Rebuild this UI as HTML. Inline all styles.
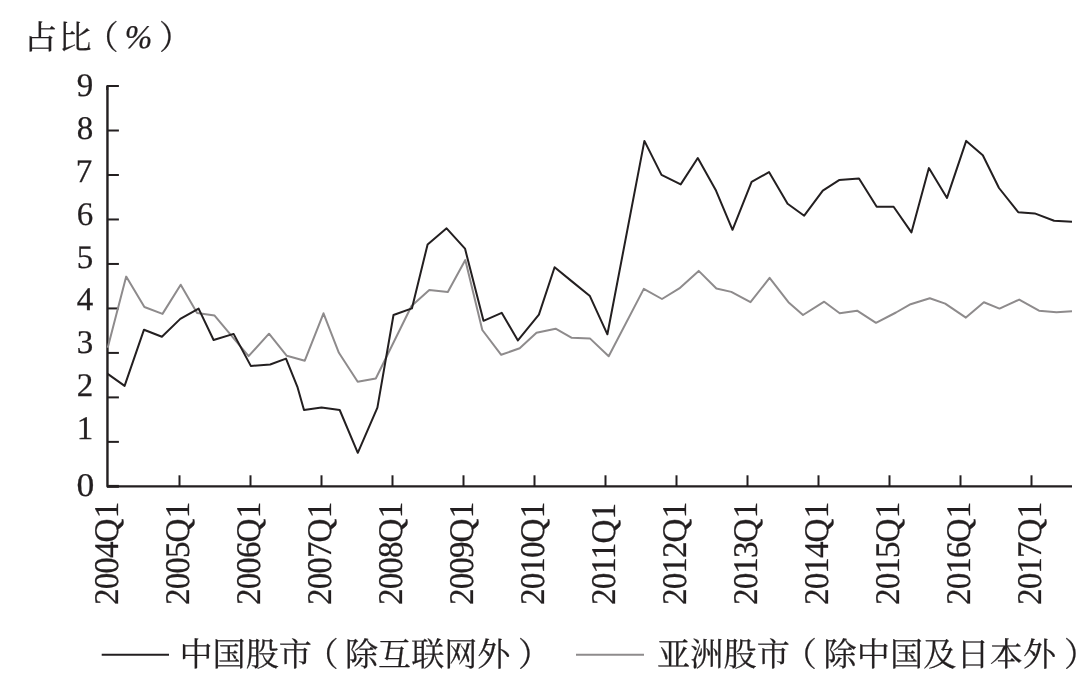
<!DOCTYPE html><html><head><meta charset="utf-8"><title>占比（%）</title>
<style>html,body{margin:0;padding:0;background:#fff}svg{display:block;will-change:transform}text{font-family:"Liberation Serif","Noto Serif CJK SC",serif;fill:#231f20;stroke:#231f20;stroke-width:0.25px;text-rendering:geometricPrecision}</style></head><body>
<svg width="1091" height="696" viewBox="0 0 1091 696">
<title>占比（%）：中国股市（除互联网外）与亚洲股市（除中国及日本外），2004Q1—2017Q3</title>
<rect width="1091" height="696" fill="#fff"/>
<path d="M107.45 86.03 V486.35 H1072" stroke="#231f20" stroke-width="2.4" fill="none" stroke-linejoin="round"/>
<g stroke="#231f20" stroke-width="2.0" fill="none" stroke-linecap="butt">
<path d="M107.45 441.87 H118.90"/>
<path d="M107.45 397.39 H118.90"/>
<path d="M107.45 352.91 H118.90"/>
<path d="M107.45 308.43 H118.90"/>
<path d="M107.45 263.95 H118.90"/>
<path d="M107.45 219.47 H118.90"/>
<path d="M107.45 174.99 H118.90"/>
<path d="M107.45 130.51 H118.90"/>
<path d="M118.90 86.03 H107.25 V90.03" stroke-linejoin="round"/>
<path d="M107.05 486.35 H118.90" stroke-width="2.9"/>
<path d="M179.50 486.35 V475.30"/>
<path d="M250.50 486.35 V475.30"/>
<path d="M321.50 486.35 V475.30"/>
<path d="M392.50 486.35 V475.30"/>
<path d="M463.50 486.35 V475.30"/>
<path d="M534.50 486.35 V475.30"/>
<path d="M605.50 486.35 V475.30"/>
<path d="M676.50 486.35 V475.30"/>
<path d="M747.50 486.35 V475.30"/>
<path d="M818.50 486.35 V475.30"/>
<path d="M889.50 486.35 V475.30"/>
<path d="M960.50 486.35 V475.30"/>
<path d="M1031.50 486.35 V475.30"/>
</g>
<polyline points="107.7,347.7 126.2,276.6 144.4,307.0 162.5,313.9 180.7,284.7 197.1,313.1 214.6,315.6 248.6,356.1 269.0,333.7 286.8,355.8 304.8,360.7 323.5,313.3 338.9,352.8 357.7,381.7 375.8,378.5 411.5,306.0 429.3,290.0 447.8,292.1 465.3,260.1 482.3,330.0 501.2,354.8 519.7,348.3 536.5,332.8 555.6,328.7 571.8,337.8 589.9,338.4 608.7,356.3 643.8,288.9 662.0,299.0 679.3,288.4 698.7,270.9 716.4,288.5 731.3,291.9 750.5,302.1 769.6,277.9 788.4,302.2 803.0,315.0 824.2,301.7 839.7,313.3 857.1,310.7 876.0,322.8 896.0,312.5 910.6,304.2 929.8,298.2 945.2,303.6 965.9,317.6 983.9,302.3 999.5,308.6 1019.2,299.6 1039.0,310.7 1056.5,312.3 1072.0,311.3" fill="none" stroke="#8e8b8c" stroke-width="2.0" stroke-linejoin="round"/>
<polyline points="107.7,373.9 124.6,385.9 144.0,329.7 161.9,336.7 180.3,318.9 198.6,308.6 213.6,340.0 233.6,333.9 250.8,365.9 270.2,364.5 286.0,358.6 297.6,387.4 304.0,409.9 321.5,407.6 339.7,410.0 357.8,452.8 377.4,407.6 393.5,315.0 411.9,308.4 427.6,244.4 446.6,228.3 465.0,248.6 483.5,320.8 501.7,312.8 517.9,340.4 538.9,314.6 554.6,267.3 572.2,281.6 589.9,296.1 607.4,334.3 644.4,140.9 661.5,174.9 680.7,184.4 697.8,158.0 716.0,190.6 732.5,229.8 751.6,181.9 769.0,172.1 787.6,203.7 804.2,215.7 822.8,190.6 839.1,180.1 859.0,178.5 876.7,206.7 893.6,206.7 911.4,232.4 928.9,168.1 947.0,197.9 966.2,140.9 982.8,155.3 999.0,188.0 1018.2,212.2 1034.7,213.4 1054.1,220.8 1072.0,221.8" fill="none" stroke="#231f20" stroke-width="2.0" stroke-linejoin="round"/>
<text transform="translate(85.0 96.2) scale(1.00 1)" font-size="33.0" text-anchor="middle">9</text>
<text transform="translate(85.0 139.1) scale(1.00 1)" font-size="33.0" text-anchor="middle">8</text>
<text transform="translate(83.9 182.0) scale(1.00 1)" font-size="33.0" text-anchor="middle">7</text>
<text transform="translate(85.0 224.6) scale(1.00 1)" font-size="33.0" text-anchor="middle">6</text>
<text transform="translate(85.0 267.6) scale(1.00 1)" font-size="33.0" text-anchor="middle">5</text>
<text transform="translate(85.0 310.4) scale(1.00 1)" font-size="33.0" text-anchor="middle">4</text>
<text transform="translate(85.0 353.3) scale(1.00 1)" font-size="33.0" text-anchor="middle">3</text>
<text transform="translate(85.0 395.9) scale(1.00 1)" font-size="33.0" text-anchor="middle">2</text>
<text transform="translate(85.0 439.3) scale(1.00 1)" font-size="33.0" text-anchor="middle">1</text>
<text transform="translate(85.5 496.3) scale(1.08 1)" font-size="33.0" text-anchor="middle">0</text>
<text transform="translate(117.90 604.9) rotate(-90) scale(1.035 1.08)" font-size="32.0" letter-spacing="-0.9">2004Q<tspan dx="1.2">1</tspan></text>
<text transform="translate(188.90 604.9) rotate(-90) scale(1.035 1.08)" font-size="32.0" letter-spacing="-0.9">2005Q<tspan dx="1.2">1</tspan></text>
<text transform="translate(259.90 604.9) rotate(-90) scale(1.035 1.08)" font-size="32.0" letter-spacing="-0.9">2006Q<tspan dx="1.2">1</tspan></text>
<text transform="translate(330.90 604.9) rotate(-90) scale(1.035 1.08)" font-size="32.0" letter-spacing="-0.9">2007Q<tspan dx="1.2">1</tspan></text>
<text transform="translate(401.90 604.9) rotate(-90) scale(1.035 1.08)" font-size="32.0" letter-spacing="-0.9">2008Q<tspan dx="1.2">1</tspan></text>
<text transform="translate(472.90 604.9) rotate(-90) scale(1.035 1.08)" font-size="32.0" letter-spacing="-0.9">2009Q<tspan dx="1.2">1</tspan></text>
<text transform="translate(543.90 604.9) rotate(-90) scale(1.035 1.08)" font-size="32.0" letter-spacing="-0.9">2010Q<tspan dx="1.2">1</tspan></text>
<text transform="translate(614.90 604.9) rotate(-90) scale(1.035 1.08)" font-size="32.0" letter-spacing="-0.9">2011Q<tspan dx="1.2">1</tspan></text>
<text transform="translate(685.90 604.9) rotate(-90) scale(1.035 1.08)" font-size="32.0" letter-spacing="-0.9">2012Q<tspan dx="1.2">1</tspan></text>
<text transform="translate(756.90 604.9) rotate(-90) scale(1.035 1.08)" font-size="32.0" letter-spacing="-0.9">2013Q<tspan dx="1.2">1</tspan></text>
<text transform="translate(827.90 604.9) rotate(-90) scale(1.035 1.08)" font-size="32.0" letter-spacing="-0.9">2014Q<tspan dx="1.2">1</tspan></text>
<text transform="translate(898.90 604.9) rotate(-90) scale(1.035 1.08)" font-size="32.0" letter-spacing="-0.9">2015Q<tspan dx="1.2">1</tspan></text>
<text transform="translate(969.90 604.9) rotate(-90) scale(1.035 1.08)" font-size="32.0" letter-spacing="-0.9">2016Q<tspan dx="1.2">1</tspan></text>
<text transform="translate(1040.90 604.9) rotate(-90) scale(1.035 1.08)" font-size="32.0" letter-spacing="-0.9">2017Q<tspan dx="1.2">1</tspan></text>
<g fill="#231f20" stroke="none">
<text x="24.0" y="49.3" font-size="33.1" stroke="none">占</text>
<text x="58.5" y="49.3" font-size="33.1" stroke="none">比</text>
<text x="85.4" y="49.3" font-size="33.1" stroke="none">（</text>
<text x="159.1" y="49.3" font-size="33.1" stroke="none">）</text>
</g>
<text x="138.5" y="48.3" font-size="33.0" font-style="italic" text-anchor="middle" stroke="none">%</text>
<path d="M101.7 654.7 H169.0" stroke="#231f20" stroke-width="2.1"/>
<path d="M576 654.8 H644" stroke="#8e8b8c" stroke-width="2.1"/>
<g fill="#231f20" stroke="none">
<text x="179.5" y="665.8" font-size="33.1" stroke="none">中国股市</text>
<text x="305.6" y="665.8" font-size="33.1" stroke="none">（</text>
<text x="345.0" y="665.8" font-size="33.1" stroke="none">除互联网外</text>
<text x="518.1" y="665.8" font-size="33.1" stroke="none">）</text>
<text x="657.0" y="665.8" font-size="33.1" stroke="none" textLength="132.9" lengthAdjust="spacing">亚洲股市</text>
<text x="783.8" y="665.8" font-size="33.1" stroke="none">（</text>
<text x="823.4" y="665.8" font-size="33.1" stroke="none" textLength="232.8" lengthAdjust="spacing">除中国及日本外</text>
<text x="1064.0" y="665.8" font-size="33.1" stroke="none">）</text>
</g>
</svg></body></html>
